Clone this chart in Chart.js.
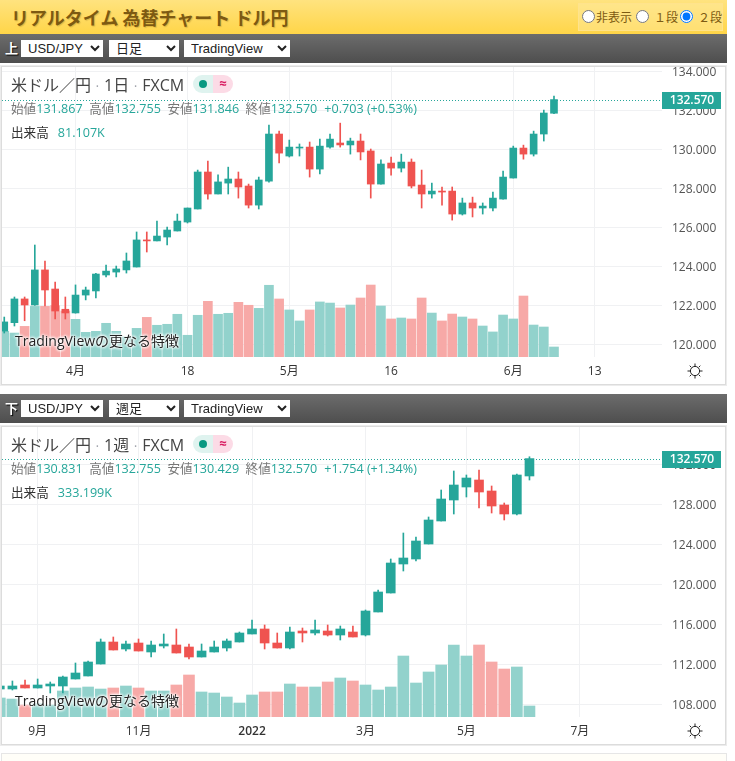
<!DOCTYPE html>
<html lang="ja">
<head>
<meta charset="utf-8">
<title>リアルタイム 為替チャート ドル円</title>
<script src="https://cdn.jsdelivr.net/npm/chart.js@4/dist/chart.umd.min.js"></script>
<style>
  html, body { margin: 0; padding: 0; background: #fff; overflow: hidden; }
  body { width: 735px; height: 761px; position: relative; font-family: "Open Sans", "Noto Sans CJK JP", sans-serif; color: #333; }
  .head { position: absolute; left: 0; top: 0; width: 727px; height: 34px; background: linear-gradient(#ffe37f, #ffd548); }
  .head h1 { position: absolute; left: 11px; top: 3px; margin: 0; font: bold 18px/28px "Noto Sans CJK JP", sans-serif; color: #7d5a12; text-shadow: 1px 1px 1px rgba(120,80,0,.25); white-space: nowrap; }
  .mode { position: absolute; left: 578px; top: 3px; width: 143px; height: 26px; border: 1px solid #ffe38c; background: rgba(255,235,160,.45); font: 12px/26px "Noto Sans CJK JP", sans-serif; color: #7d5a12; }
  .mode label { position: absolute; top: 0; white-space: nowrap; }
  .mode input { position: absolute; top: 6px; margin: 0; width: 13px; height: 13px; }
  .bar { position: absolute; left: 0; width: 727px; height: 29px; background: linear-gradient(#6c6c6c, #4e4e4e); }
  .bar b { position: absolute; left: 5px; top: 5px; font: bold 13px/18px "Noto Sans CJK JP", sans-serif; color: #fff; text-shadow: 1px 1px 1px #000; }
  .bar select { position: absolute; top: 6px; height: 17px; border: 0; padding: 0 0 0 3px; background: #fff; font: 13px "Liberation Sans", "Noto Sans CJK JP", sans-serif; color: #222; border-radius: 0; }
  .panel { position: absolute; left: 1px; width: 723px; height: 317px; border: 1px solid #dcdcdc; box-shadow: 0 0 0 1px #ececec; background: #fff; }
  .panel canvas { position: absolute; left: 0; top: 0; }
  .title { position: absolute; left: 9px; top: 5px; font: 16px/24px "Noto Sans CJK JP", sans-serif; color: #444; white-space: nowrap; }
  .title i { display: inline-block; width: 13px; text-align: center; font-style: normal; color: #9a9da6; font-size: 13px; }
  .title span { font-family: "Open Sans", "Noto Sans CJK JP", sans-serif; }
  .pill { position: absolute; left: 191px; top: 8px; width: 40px; height: 18px; border-radius: 9px; overflow: hidden; background: linear-gradient(90deg, #dff3ef 50%, #fcdbe6 50%); }
  .pill s { position: absolute; left: 6px; top: 5px; width: 8px; height: 8px; border-radius: 50%; background: #089981; }
  .pill u { position: absolute; left: 20px; top: 0; width: 20px; text-align: center; text-decoration: none; font: bold 13px/17px "Open Sans", sans-serif; color: #d81b60; }
  .ohlc, .vol { position: absolute; left: 9px; font: 12.6px/16px "Open Sans", "Noto Sans CJK JP", sans-serif; white-space: nowrap; color: #777; }
  .ohlc { top: 34px; }
  .vol { top: 58px; color: #333; }
  .ohlc em, .vol em { font-style: normal; color: #26a69a; }
  .ohlc span { margin-left: 6.5px; }
  .ohlc span.gap { margin-left: 7px; }
  .vol em { margin-left: 9px; }
  .tvlink { position: absolute; left: 13px; top: 264px; font: 14px/20px "Open Sans", "Noto Sans CJK JP", sans-serif; color: #222; white-space: nowrap; text-shadow: 0 0 3px #fff, 0 0 3px #fff, 0 0 3px #fff, 0 0 3px #fff; }
  .gear { position: absolute; left: 685px; top: 296px; }
  .next { position: absolute; left: 1px; top: 753px; width: 724px; height: 20px; border: 1px solid #e6e6e6; background: #fffef8; }
</style>
</head>
<body>
<div class="head">
  <h1>リアルタイム 為替チャート ドル円</h1>
  <div class="mode">
    <input type="radio" name="mode" style="left:3px">
    <label style="left:17px">非表示</label>
    <input type="radio" name="mode" style="left:57px">
    <label style="left:75px">１段</label>
    <input type="radio" name="mode" style="left:101px" checked>
    <label style="left:119px">２段</label>
  </div>
</div>

<div class="bar" style="top:34px">
  <b>上</b>
  <select style="left:21px;width:82px"><option>USD/JPY</option></select>
  <select style="left:109px;width:70px"><option>日足</option></select>
  <select style="left:184px;width:106px"><option>TradingView</option></select>
</div>
<div class="panel" style="top:66px">
  <canvas id="dayChart" width="723" height="317"></canvas>
  <div class="title">米ドル／円<i>·</i><span>1日</span><i>·</i><span>FXCM</span></div>
  <div class="pill"><s></s><u>≈</u></div>
  <div class="ohlc">始値<em>131.867</em><span>高値</span><em>132.755</em><span>安値</span><em>131.846</em><span>終値</span><em>132.570</em><span class="gap"></span><em>+0.703 (+0.53%)</em></div>
  <div class="vol">出来高<em>81.107K</em></div>
  <div class="tvlink">TradingViewの更なる特徴</div>
  <svg class="gear" width="16" height="16" viewBox="0 0 16 16" fill="none" stroke="#222"><circle cx="8" cy="8" r="4.6"/><path d="M8 0.5V3M8 13v2.5M0.5 8H3M13 8h2.5M2.7 2.7l1.6 1.6M11.7 11.7l1.6 1.6M2.7 13.3l1.6-1.6M11.7 4.3l1.6-1.6"/></svg>
</div>

<div class="bar" style="top:394px">
  <b>下</b>
  <select style="left:21px;width:82px"><option>USD/JPY</option></select>
  <select style="left:109px;width:70px"><option>週足</option></select>
  <select style="left:184px;width:106px"><option>TradingView</option></select>
</div>
<div class="panel" style="top:426px">
  <canvas id="weekChart" width="723" height="317"></canvas>
  <div class="title">米ドル／円<i>·</i><span>1週</span><i>·</i><span>FXCM</span></div>
  <div class="pill"><s></s><u>≈</u></div>
  <div class="ohlc">始値<em>130.831</em><span>高値</span><em>132.755</em><span>安値</span><em>130.429</em><span>終値</span><em>132.570</em><span class="gap"></span><em>+1.754 (+1.34%)</em></div>
  <div class="vol">出来高<em>333.199K</em></div>
  <div class="tvlink">TradingViewの更なる特徴</div>
  <svg class="gear" width="16" height="16" viewBox="0 0 16 16" fill="none" stroke="#222"><circle cx="8" cy="8" r="4.6"/><path d="M8 0.5V3M8 13v2.5M0.5 8H3M13 8h2.5M2.7 2.7l1.6 1.6M11.7 11.7l1.6 1.6M2.7 13.3l1.6-1.6M11.7 4.3l1.6-1.6"/></svg>
</div>
<div class="next"></div>

<script>
// 日足
const dayOpen = [120.68,121.11,122.33,122.02,123.82,122.84,121.80,121.61,122.53,122.74,123.56,123.71,123.82,123.97,125.36,125.31,125.51,125.82,126.28,126.95,128.85,127.72,128.28,128.49,128.13,127.15,128.38,130.80,129.67,130.08,130.13,129.00,130.13,130.34,130.24,130.44,129.93,128.23,129.31,129.05,129.36,128.18,127.72,127.87,127.87,126.69,127.26,127.00,127.00,127.46,128.54,130.08,129.77,130.80,131.867];
const dayHigh = [121.40,122.43,122.43,125.10,124.28,123.20,122.43,123.05,122.94,123.64,124.07,124.02,124.69,125.77,125.77,126.33,126.02,126.69,127.00,128.95,129.41,128.70,129.10,128.85,128.23,128.59,131.26,130.95,130.49,130.29,130.39,130.54,130.80,131.36,130.59,130.80,130.03,129.47,129.62,129.77,129.52,128.95,128.28,128.08,128.08,127.51,127.56,127.26,127.82,128.90,130.18,130.23,130.95,132.03,132.755];
const dayLow = [120.58,120.94,121.21,122.00,121.97,121.30,121.30,121.60,122.28,122.38,123.46,123.46,123.66,123.97,124.74,125.31,125.10,125.82,126.23,126.95,127.46,127.72,127.72,127.51,127.00,126.95,128.33,129.31,129.62,129.67,128.59,128.75,130.08,130.13,129.77,129.47,127.51,128.23,128.69,128.85,128.03,127.00,127.51,127.15,126.38,126.64,126.54,126.69,126.85,127.46,128.54,129.51,129.67,130.44,131.846];
const dayClose = [121.15,122.33,122.02,123.82,122.79,121.71,121.61,122.53,122.79,123.61,123.76,123.87,124.28,125.36,125.31,125.56,125.87,126.33,127.00,128.85,127.72,128.34,128.49,128.08,127.15,128.44,130.80,129.82,130.13,130.13,129.00,130.18,130.54,130.24,130.44,129.88,128.23,129.26,129.05,129.36,128.13,127.72,127.87,127.82,126.69,127.26,127.00,127.10,127.51,128.59,130.08,129.77,130.80,131.88,132.57];
const dayVolume = [208,194,248,410,410,416,373,305,200,208,273,208,162,232,321,257,265,346,176,338,451,346,354,443,419,394,581,470,381,292,381,446,437,397,421,478,583,413,308,316,308,478,356,292,348,324,308,251,203,340,308,494,259,243,81.107];
const dayTickAt = [7,18,28,38,50,58];
const dayTickLabels = ['4月','18','5月','16','6月','13'];
const dayPriceTicks = [120,122,124,126,128,130,132,134];

// 週足
const weekOpen = [109.53,109.53,109.93,109.63,109.83,109.83,110.53,110.83,112.03,114.23,113.53,114.13,113.23,113.83,113.93,113.73,112.73,113.23,113.63,114.23,115.03,115.53,114.13,113.63,115.33,115.13,115.33,114.93,115.23,114.93,117.23,119.13,122.03,122.53,124.03,126.33,128.43,129.73,130.43,129.33,127.93,127.03,130.831];
const weekHigh = [109.85,110.33,110.43,110.53,110.23,110.83,112.13,112.33,114.53,114.73,114.33,114.53,114.33,115.03,115.53,114.03,114.03,114.33,114.53,115.23,116.43,115.93,115.13,115.73,115.63,116.43,115.93,115.83,115.83,117.43,119.43,122.53,125.13,124.73,126.73,129.43,131.33,130.93,131.43,129.83,128.13,131.03,132.755];
const weekLow = [109.50,109.43,109.63,109.63,109.13,109.13,110.53,110.83,112.03,113.43,113.33,113.33,112.73,113.63,113.13,112.53,112.73,113.23,113.33,114.23,115.03,113.53,113.63,113.53,114.23,114.93,114.83,114.43,114.73,114.83,117.23,119.13,121.33,122.33,124.03,126.33,127.03,128.73,127.63,127.13,126.43,126.93,130.429];
const weekClose = [109.83,109.83,109.63,109.93,110.03,110.73,111.13,112.23,114.23,113.43,114.03,113.33,113.93,114.03,113.13,112.73,113.33,113.73,114.33,115.13,115.53,114.13,113.63,115.23,115.13,115.43,114.93,115.53,114.73,117.33,119.23,122.13,122.63,124.33,126.43,128.53,129.93,130.63,129.23,127.83,127.03,130.93,132.57];
const weekVolume = [576,545,364,414,364,788,879,909,848,879,939,879,788,788,970,1273,758,727,606,424,667,758,758,1000,909,909,1061,1182,1091,970,818,909,1848,1030,1364,1576,2182,1848,2182,1667,1454,1515,333.199];
const weekTickAt = [3,11,20,29,37,46];
const weekTickLabels = ['9月','11月','2022','3月','5月','7月'];
const weekPriceTicks = [108,112,116,120,124,128,132];

const UP = '#26a69a', DOWN = '#ef5350';
const UP_VOL = '#92d2cc', DOWN_VOL = '#f7a9a7';
const GRID = '#f0f1f3';
const AXIS_FONT = '"Open Sans", "Noto Sans CJK JP", sans-serif';

// 現在値の点線とラベル
const lastPricePlugin = {
    id: 'lastPrice',
    afterDatasetsDraw(chart, args, opts) {
        const { ctx, chartArea, scales } = chart;
        const y = Math.round(scales.y.getPixelForValue(opts.value));
        ctx.save();
        ctx.strokeStyle = UP;
        ctx.lineWidth = 1;
        ctx.setLineDash([1, 2]);
        ctx.beginPath();
        ctx.moveTo(0, y + 0.5);
        ctx.lineTo(chartArea.right, y + 0.5);
        ctx.stroke();
        ctx.restore();
    },
    afterDraw(chart, args, opts) {
        const { ctx, chartArea, scales } = chart;
        const y = Math.round(scales.y.getPixelForValue(opts.value));
        ctx.save();
        ctx.fillStyle = UP;
        ctx.fillRect(chartArea.right, y - 8, 59, 17);
        ctx.fillStyle = '#fff';
        ctx.font = '600 12px ' + AXIS_FONT;
        ctx.textAlign = 'center';
        ctx.textBaseline = 'middle';
        ctx.fillText(opts.value.toFixed(3), chartArea.right + 30, y + 1);
        ctx.restore();
    }
};

function drawCandles(id, s) {
    const up = s.close.map((c, i) => c >= s.open[i]);
    const xy = (fn) => s.close.map((c, i) => ({ x: i, y: fn(i) }));
    new Chart(document.getElementById(id), {
        type: 'bar',
        data: {
            datasets: [
                {
                    label: '出来高',
                    yAxisID: 'vol',
                    order: 3,
                    grouped: false,
                    data: xy(i => s.volume[i]),
                    backgroundColor: up.map(u => u ? UP_VOL : DOWN_VOL),
                    barThickness: s.volWidth
                },
                {
                    label: '高値安値',
                    order: 2,
                    grouped: false,
                    data: xy(i => [s.low[i], s.high[i]]),
                    backgroundColor: up.map(u => u ? UP : DOWN),
                    barThickness: 1
                },
                {
                    label: '始値終値',
                    order: 1,
                    grouped: false,
                    minBarLength: 1,
                    data: xy(i => [s.open[i], s.close[i]]),
                    backgroundColor: up.map(u => u ? UP : DOWN),
                    barThickness: s.bodyWidth
                }
            ]
        },
        options: {
            responsive: false,
            devicePixelRatio: 1,
            animation: false,
            events: [],
            layout: { padding: 0, autoPadding: false },
            plugins: {
                legend: { display: false },
                tooltip: { enabled: false },
                lastPrice: { value: s.close[s.close.length - 1] }
            },
            scales: {
                x: {
                    type: 'linear',
                    offset: false,
                    min: s.xMin,
                    max: s.xMax,
                    border: { display: false },
                    grid: { color: GRID, drawTicks: false, offset: false },
                    afterBuildTicks: (axis) => { axis.ticks = s.tickAt.map(v => ({ value: v })); },
                    afterFit: (axis) => { axis.height = 27; axis.paddingLeft = 0; axis.paddingRight = 0; },
                    ticks: {
                        autoSkip: false,
                        maxRotation: 0,
                        padding: 7,
                        color: '#333',
                        font: (c) => ({ family: AXIS_FONT, size: 12, weight: c.tick && c.tick.label === '2022' ? '600' : '400' }),
                        callback: (v) => s.tickLabels[s.tickAt.indexOf(v)]
                    }
                },
                y: {
                    position: 'right',
                    min: s.yMin,
                    max: s.yMax,
                    border: { display: false },
                    grid: { color: GRID, drawTicks: false },
                    afterBuildTicks: (axis) => { axis.ticks = s.priceTicks.map(v => ({ value: v })); },
                    afterFit: (axis) => { axis.width = 63; axis.paddingTop = 0; axis.paddingBottom = 0; },
                    ticks: {
                        padding: 10,
                        labelOffset: 1,
                        color: '#555',
                        font: { family: AXIS_FONT, size: 12 },
                        callback: (v) => v.toFixed(3)
                    }
                },
                vol: {
                    display: false,
                    min: 0,
                    max: s.volMax
                }
            }
        },
        plugins: [lastPricePlugin]
    });
}

drawCandles('dayChart', {
    open: dayOpen, high: dayHigh, low: dayLow, close: dayClose, volume: dayVolume,
    tickAt: dayTickAt, tickLabels: dayTickLabels, priceTicks: dayPriceTicks,
    xMin: -0.222, xMax: 64.61, yMin: 119.348, yMax: 134.243, volMax: 2349,
    bodyWidth: 7, volWidth: 9
});

drawCandles('weekChart', {
    open: weekOpen, high: weekHigh, low: weekLow, close: weekClose, volume: weekVolume,
    tickAt: weekTickAt, tickLabels: weekTickLabels, priceTicks: weekPriceTicks,
    xMin: 0.174, xMax: 52.51, yMin: 106.73, yMax: 135.73, volMax: 8787,
    bodyWidth: 9, volWidth: 11
});
</script>
</body>
</html>
